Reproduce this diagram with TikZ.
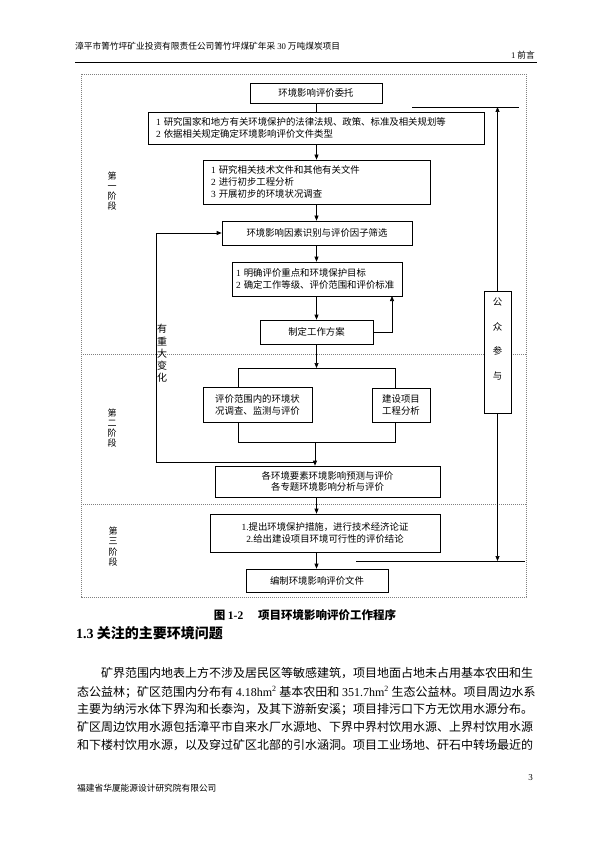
\documentclass[tikz,border=0pt]{standalone}
\usepackage{fontspec}
\setmainfont{Noto Sans CJK SC}
\newfontfamily\tms{Liberation Serif}
\usetikzlibrary{arrows.meta,positioning}

\begin{document}
\begin{tikzpicture}[x=1pt,y=-1pt,
  >={Triangle[length=5pt,width=4pt]},
  box/.style={draw, line width=0.7pt, inner sep=3pt, align=center,
    font=\fontsize{9.4}{12}\selectfont},
  arr/.style={->, line width=0.7pt},
  ln/.style={line width=0.7pt},
  stagesep/.style={gray, line width=0.5pt, dash pattern=on 1.2pt off 0.8pt},
  stage/.style={inner sep=0pt, align=center, font=\fontsize{9}{10.2}\selectfont},
  bodyline/.style={anchor=west, inner sep=0pt, font=\fontsize{12}{14}\selectfont},
  small/.style={inner sep=0pt, font=\fontsize{8.7}{10}\selectfont}
]
  \useasboundingbox (0,0) rectangle (595,842);

  % page head
  \node[small, anchor=west] (HDR) at (75,46) {漳平市箐竹坪矿业投资有限责任公司箐竹坪煤矿年采 {\tms 30} 万吨煤炭项目};
  \node[small, anchor=east] (CHAP) at (535,55) {{\tms 1} 前言};
  \draw[line width=0.6pt] (75,62) -- (537,62);

  % stage frame
  \draw[stagesep] (81,74) rectangle (526,597);
  \draw[stagesep] (81,354) -- (526,354);
  \draw[stagesep] (81,504) -- (526,504);

  \node[stage] (S1) at (112,191) {第\\一\\阶\\段};
  \node[stage] (S2) at (112,428) {第\\二\\阶\\段};
  \node[stage] (S3) at (113,546.5) {第\\三\\阶\\段};

  \node[box, minimum width=132pt, minimum height=20pt] (ENT) at (316,93) {环境影响评价委托};
  \node[box, minimum width=336pt, minimum height=32pt, text width=320pt, align=left] (LAW) at (316,128)
    {{\tms 1} 研究国家和地方有关环境保护的法律法规、政策、标准及相关规划等\\{\tms 2} 依据相关规定确定环境影响评价文件类型};
  \node[box, minimum width=227pt, minimum height=44pt, text width=211pt, align=left] (TECH) at (316.5,182)
    {{\tms 1} 研究相关技术文件和其他有关文件\\{\tms 2} 进行初步工程分析\\{\tms 3} 开展初步的环境状况调查};
  \node[box, minimum width=190pt, minimum height=24pt] (IDF) at (317,233) {环境影响因素识别与评价因子筛选};
  \node[box, minimum width=170pt, minimum height=34pt, text width=162pt, align=left] (TGT) at (317,279)
    {{\tms 1} 明确评价重点和环境保护目标\\{\tms 2} 确定工作等级、评价范围和评价标准};
  \node[box, minimum width=113pt, minimum height=24pt] (PLAN) at (316.5,332) {制定工作方案};
  \node[box, minimum width=109pt, minimum height=35pt] (SURV) at (257.5,404.5) {评价范围内的环境状\\况调查、监测与评价};
  \node[box, minimum width=58pt, minimum height=34pt] (ENG) at (401,405) {建设项目\\工程分析};
  \node[box, minimum width=225pt, minimum height=31pt, font=\fontsize{9.4}{11.5}\selectfont] (PRED) at (327.5,481.5)
    {各环境要素环境影响预测与评价\\各专题环境影响分析与评价};
  \node[box, minimum width=230pt, minimum height=38pt] (MEAS) at (325,533)
    {{\tms 1.}提出环境保护措施，进行技术经济论证\\{\tms 2.}给出建设项目环境可行性的评价结论};
  \node[box, minimum width=142pt, minimum height=23pt] (DOC) at (317,580.5) {编制环境影响评价文件};

  \node[draw, line width=0.7pt, fill=white, inner sep=0pt, minimum width=27pt, minimum height=122pt] (PUB) at (497.5,352) {};
  \node[inner sep=0pt, align=center, font=\fontsize{9.4}{24.7}\selectfont] (PUBT) at (497.5,339) {公\\众\\参\\与};

  \node[inner sep=0pt, align=center, font=\fontsize{10}{12.25}\selectfont] (CHG) at (162,353.5) {有\\重\\大\\变\\化};

  \coordinate (AX) at (316.5,0);
  \coordinate (TL) at (238,368);
  \coordinate (TR) at (395,368);
  \coordinate (BL) at (238,442);
  \coordinate (BR) at (395,442);
  \coordinate (BJ) at (315,442);
  \coordinate (LOOP) at (156,462);
  \coordinate (FB) at (392,296);
  \coordinate (PTL) at (412,107);
  \coordinate (PTR) at (519,107);
  \coordinate (PBL) at (356,561);
  \coordinate (PBR) at (525,561);

  \draw[ln] (ENT.south) -- (ENT.south |- LAW.north);
  \draw[arr] (AX |- LAW.south) -- (AX |- TECH.north);
  \draw[arr] (AX |- TECH.south) -- (AX |- IDF.north);
  \draw[arr] (AX |- IDF.south) -- (AX |- TGT.north);
  \draw[arr] (AX |- TGT.south) -- (AX |- PLAN.north);
  \draw[arr] (PLAN.east) -| (FB);
  \draw[arr] (AX |- PLAN.south) -- (AX |- TL);
  \draw[ln] (TL) -- (TR);
  \draw[ln] (TL) -- (TL |- SURV.north);
  \draw[ln] (TR) -- (TR |- ENG.north);
  \draw[ln] (TL |- SURV.south) -- (BL) -- (BR) -- (TR |- ENG.south);
  \draw[arr] (BJ) -- (BJ |- PRED.north);
  \draw[arr] (BJ |- LOOP) -- (LOOP) |- (IDF.west);
  \draw[arr] (AX |- PRED.south) -- (AX |- MEAS.north);
  \draw[arr] (AX |- MEAS.south) -- (AX |- DOC.north);

  \draw[ln] (PTL) -- (PTR);
  \draw[arr] (PUB.north) -- (PUB.north |- PTL);
  \draw[ln] (PBL) -- (PBR);
  \draw[arr] (PUB.south) -- (PUB.south |- PBL);

  % caption and text
  \node[inner sep=0pt, font=\fontsize{11.5}{13}\selectfont\bfseries] (CAP) at (305,615)
    {图 {\tms\bfseries 1-2}\hspace{1.3em}项目环境影响评价工作程序};
  \node[anchor=west, inner sep=0pt, font=\fontsize{14}{16}\selectfont\bfseries] (SEC) at (76,633)
    {{\tms\bfseries 1.3} 关注的主要环境问题};
  \node[bodyline] (L1) at (101,673) {矿界范围内地表上方不涉及居民区等敏感建筑，项目地面占地未占用基本农田和生};
  \node[bodyline] (L2) at (77,692) {态公益林；矿区范围内分布有 {\tms 4.18hm\textsuperscript{2}} 基本农田和 {\tms 351.7hm\textsuperscript{2}} 生态公益林。项目周边水系};
  \node[bodyline] (L3) at (77,709) {主要为纳污水体下界沟和长泰沟，及其下游新安溪；项目排污口下方无饮用水源分布。};
  \node[bodyline] (L4) at (77,727) {矿区周边饮用水源包括漳平市自来水厂水源地、下界中界村饮用水源、上界村饮用水源};
  \node[bodyline] (L5) at (77,745) {和下楼村饮用水源，以及穿过矿区北部的引水涵洞。项目工业场地、矸石中转场最近的};

  \node[small, anchor=east, font=\tms\fontsize{9}{10}\selectfont] (PG) at (533,778) {3};
  \node[small, anchor=west] (FTR) at (77,788) {福建省华厦能源设计研究院有限公司};
\end{tikzpicture}
\end{document}
